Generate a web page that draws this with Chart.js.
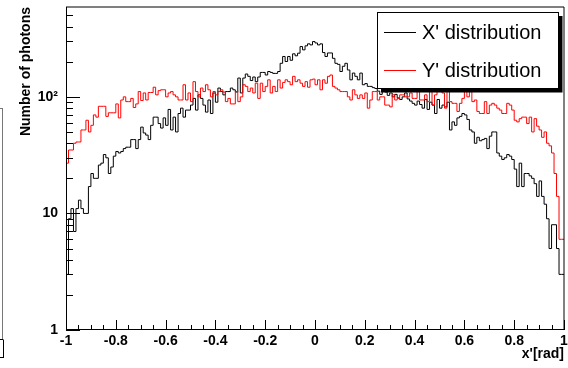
<!DOCTYPE html>
<html>
<head>
<meta charset="utf-8">
<title>Photon angular distributions</title>
<script src="https://cdn.jsdelivr.net/npm/chart.js@4.4.1/dist/chart.umd.min.js"></script>
<style>
  html, body { margin: 0; padding: 0; background: #fff; }
</style>
</head>
<body>
<canvas id="angleChart" width="568" height="368"></canvas>
<script>
// histogram binning: 200 bins of 0.01 rad on [-1, 1]
const binStart = -1;
const binWidth = 0.01;

// counts per bin, X' (angle in x)
const xPrimeCounts = [
  2, 3, 9, 11, 7, 11, 13, 11, 10, 10,
  17, 22, 20, 20, 26, 27, 32, 30, 22, 25,
  31, 34, 33, 34, 36, 37, 37, 43, 43, 36,
  43, 55, 49, 47, 43, 57, 67, 67, 59, 54,
  66, 57, 78, 52, 67, 50, 72, 80, 67, 77,
  77, 85, 97, 77, 104, 97, 85, 74, 94, 72,
  108, 90, 119, 111, 104, 111, 111, 119, 115, 110,
  145, 108, 145, 157, 150, 138, 148, 135, 148, 162,
  162, 154, 165, 162, 159, 159, 165, 194, 222, 201,
  222, 206, 234, 225, 237, 270, 253, 274, 285, 279,
  298, 290, 279, 285, 240, 222, 238, 238, 214, 194,
  190, 165, 183, 194, 170, 140, 160, 150, 140, 160,
  127, 130, 123, 123, 120, 118, 112, 105, 115, 110,
  103, 108, 100, 105, 98, 95, 100, 108, 96, 92,
  88, 85, 92, 86, 80, 95, 78, 90, 85, 72,
  95, 80, 85, 82, 90, 52, 61, 57, 66, 68,
  72, 70, 64, 52, 50, 40, 45, 42, 43, 44,
  36, 46, 50, 50, 33, 31, 29, 30, 32, 31,
  29, 24, 17, 27, 17, 22, 22, 21, 20, 18,
  14, 19, 14, 12, 9, 5, 8, 8, 5, 3
];

// counts per bin, Y' (angle in y)
const yPrimeCounts = [
  8, 27, 35, 35, 40, 41, 41, 52, 52, 63,
  50, 57, 70, 67, 83, 83, 83, 68, 73, 73,
  73, 87, 66, 94, 100, 91, 91, 97, 81, 87,
  111, 93, 108, 94, 109, 109, 121, 104, 113, 115,
  115, 100, 108, 111, 104, 100, 94, 94, 127, 94,
  108, 91, 135, 111, 100, 119, 111, 127, 115, 100,
  111, 104, 111, 115, 110, 91, 97, 87, 87, 111,
  91, 100, 127, 123, 111, 119, 108, 131, 97, 131,
  111, 123, 140, 108, 123, 111, 140, 119, 133, 140,
  135, 127, 150, 135, 140, 131, 123, 135, 121, 140,
  142, 127, 140, 115, 140, 131, 150, 154, 123, 119,
  115, 111, 111, 111, 100, 94, 115, 104, 97, 104,
  97, 108, 80, 94, 111, 111, 94, 100, 100, 85,
  85, 82, 104, 94, 97, 104, 104, 100, 100, 108,
  97, 97, 111, 94, 94, 104, 91, 115, 85, 104,
  111, 111, 108, 80, 115, 91, 88, 88, 75, 88,
  97, 111, 100, 111, 91, 94, 75, 72, 72, 91,
  72, 85, 88, 85, 80, 77, 72, 72, 88, 85,
  77, 63, 61, 65, 67, 67, 59, 67, 50, 65,
  56, 52, 45, 50, 40, 38, 33, 22, 14, 6
];

const seriesNames = ["X' distribution", "Y' distribution"];
const seriesColors = ['#000000', '#ff0000'];

const xTickValues = [-1, -0.8, -0.6, -0.4, -0.2, 0, 0.2, 0.4, 0.6, 0.8, 1];
const xTickLabels = ['-1', '-0.8', '-0.6', '-0.4', '-0.2', '0', '0.2', '0.4', '0.6', '0.8', '1'];
const yTickValues = [1, 10, 100];
const yTickLabels = ['1', '10', '10\u00b2'];

const FONT = "'Liberation Sans', Arial, Helvetica, sans-serif";

// one point per bin low edge, plus the upper edge of the last bin
function toSteps(counts) {
  const pts = counts.map((c, i) => ({ x: binStart + i * binWidth, y: c }));
  pts.push({ x: binStart + counts.length * binWidth, y: counts[counts.length - 1] });
  return pts;
}

function line(ctx, x1, y1, x2, y2) {
  ctx.beginPath();
  ctx.moveTo(x1, y1);
  ctx.lineTo(x2, y2);
  ctx.stroke();
}

// frame, inward tick marks and the boxed legend with its shadow
const rootStyle = {
  id: 'rootStyle',
  afterDraw(chart) {
    const ctx = chart.ctx;
    const { left, right, top, bottom } = chart.chartArea;
    const xs = chart.scales.x;
    const ys = chart.scales.y;
    ctx.save();

    // frame top/right
    ctx.strokeStyle = '#000';
    ctx.lineWidth = 1;
    line(ctx, left, top, right, top);
    line(ctx, right, top, right, bottom);
    // axes
    line(ctx, left + 0.5, top, left + 0.5, bottom);
    line(ctx, left, bottom - 0.5, right, bottom - 0.5);

    // y ticks: decades long, 2..9 short
    for (let d = 1; d <= 100; d *= 10) {
      for (let m = 1; m <= 9; m++) {
        const v = d * m;
        if (v > ys.max) break;
        const py = Math.round(ys.getPixelForValue(v)) + 0.5;
        line(ctx, left, py, left + (m === 1 ? 14 : 7), py);
      }
    }
    // x ticks every 0.05, long every 0.2
    for (let k = 0; k <= 40; k++) {
      const px = Math.round(xs.getPixelForValue(-1 + k * 0.05)) + 0.5;
      line(ctx, px, bottom, px, bottom - (k % 4 === 0 ? 10 : 5));
    }

    // legend
    const bx = right - 187, by = top + 5, bw = 181, bh = 76;
    ctx.fillStyle = '#000';
    ctx.fillRect(bx + 4, by + 4, bw + 0.5, bh + 0.5);
    ctx.fillStyle = '#fff';
    ctx.fillRect(bx, by, bw, bh);
    ctx.strokeRect(bx + 0.5, by + 0.5, bw, bh);
    ctx.font = '20px ' + FONT;
    ctx.textBaseline = 'middle';
    ctx.textAlign = 'left';
    chart.data.datasets.slice().sort((a, b) => a.legendRank - b.legendRank).forEach((ds, i) => {
      const ly = by + 20 + i * 38;
      ctx.strokeStyle = ds.borderColor;
      line(ctx, bx + 7, ly + 0.5, bx + 39, ly + 0.5);
      ctx.fillStyle = '#000';
      ctx.fillText(ds.label, bx + 45, ly + 1);
    });

    // edge of the neighbouring pad
    ctx.strokeStyle = '#777';
    line(ctx, 2.5, 108, 2.5, 340);
    line(ctx, 0, 108.5, 3, 108.5);
    ctx.strokeStyle = '#000';
    line(ctx, 0, 339.5, 3, 339.5);
    line(ctx, 3.5, 339.5, 3.5, 358);
    line(ctx, 0, 357.5, 3, 357.5);

    ctx.restore();
  }
};

new Chart(document.getElementById('angleChart').getContext('2d'), {
  type: 'line',
  data: {
    datasets: [
      {
        label: seriesNames[1],
        data: toSteps(yPrimeCounts),
        borderColor: seriesColors[1],
        legendRank: 1,
        order: 1
      },
      {
        label: seriesNames[0],
        data: toSteps(xPrimeCounts),
        borderColor: seriesColors[0],
        legendRank: 0,
        order: 2
      }
    ]
  },
  options: {
    responsive: false,
    animation: false,
    layout: { padding: { top: 7, right: 4, left: 0, bottom: 0 } },
    plugins: {
      legend: { display: false },
      tooltip: { enabled: false }
    },
    elements: {
      point: { radius: 0 },
      line: { borderWidth: 1, stepped: 'after', tension: 0, fill: false }
    },
    scales: {
      x: {
        type: 'linear',
        min: -1,
        max: 1,
        grid: { display: false, drawTicks: false },
        border: { display: false },
        afterBuildTicks: s => { s.ticks = xTickValues.map(v => ({ value: v })); },
        afterFit: s => { s.height = 38; s.paddingLeft = 0; s.paddingRight = 0; },
        ticks: {
          callback: (v, i) => xTickLabels[i],
          autoSkip: false,
          maxRotation: 0,
          padding: 3,
          color: '#000',
          font: { family: FONT, size: 14, weight: 'bold' }
        },
        title: {
          display: true,
          text: "x'[rad]",
          align: 'end',
          color: '#000',
          padding: { top: 0, bottom: 5 },
          font: { family: FONT, size: 14, weight: 'bold' }
        }
      },
      y: {
        type: 'logarithmic',
        min: 1,
        max: 590,
        grid: { display: false, drawTicks: false },
        border: { display: false },
        afterBuildTicks: s => { s.ticks = yTickValues.map(v => ({ value: v })); },
        afterFit: s => { s.width = 66; s.paddingTop = 0; s.paddingBottom = 0; },
        ticks: {
          callback: (v, i) => yTickLabels[i],
          padding: 8,
          color: '#000',
          font: { family: FONT, size: 14, weight: 'bold' }
        },
        title: {
          display: true,
          text: 'Number of photons',
          align: 'end',
          color: '#000',
          padding: { top: 18, bottom: 0 },
          font: { family: FONT, size: 14, weight: 'bold' }
        }
      }
    }
  },
  plugins: [rootStyle]
});
</script>
</body>
</html>
